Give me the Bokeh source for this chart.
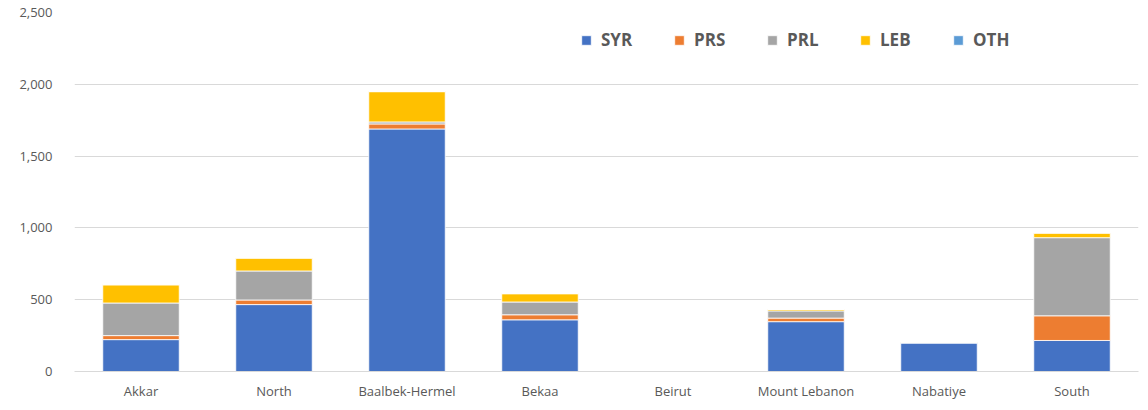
from bokeh.plotting import figure
from bokeh.models import Range1d, FactorRange, NumeralTickFormatter, FixedTicker, Legend, LegendItem, ColumnDataSource
from bokeh.embed import file_html
from bokeh.resources import INLINE

regions = ["Akkar", "North", "Baalbek-Hermel", "Bekaa", "Beirut", "Mount Lebanon", "Nabatiye", "South"]
SYR = [222, 466, 1689, 360, 0, 347, 200, 216]
PRS = [28, 32, 35, 35, 0, 25, 0, 172]
PRL = [227, 202, 14, 89, 0, 50, 0, 544]
LEB = [127, 90, 211, 58, 0, 10, 4, 32]
OTH = [0, 0, 0, 0, 0, 0, 0, 0]
series = ["SYR", "PRS", "PRL", "LEB", "OTH"]
colors = ["#4472C4", "#ED7D31", "#A5A5A5", "#FFC000", "#5B9BD5"]
y_ticks = [0, 500, 1000, 1500, 2000, 2500]

source = ColumnDataSource(dict(region=regions, SYR=SYR, PRS=PRS, PRL=PRL, LEB=LEB, OTH=OTH))

p = figure(width=1140, height=402, output_backend="svg", toolbar_location=None,
           x_range=FactorRange(*regions, range_padding=0), y_range=Range1d(0, 2500))
p.min_border_left = 74
p.min_border_right = 2
p.min_border_top = 12
p.min_border_bottom = 26
p.outline_line_color = None
p.background_fill_color = "white"
p.border_fill_color = "white"

renderers = p.vbar_stack(series, x="region", width=0.575, source=source, color=colors,
                         line_color="white", line_width=0.8)

p.xgrid.grid_line_color = None
p.ygrid.grid_line_color = "#D9D9D9"
p.ygrid.grid_line_width = 1
p.yaxis.ticker = FixedTicker(ticks=y_ticks)
p.yaxis.formatter = NumeralTickFormatter(format="0,0")
p.yaxis.axis_line_color = None
p.yaxis.major_tick_line_color = None
p.yaxis.minor_tick_line_color = None
p.yaxis.major_label_standoff = 16
p.xaxis.axis_line_color = "#D9D9D9"
p.xaxis.major_tick_line_color = None
p.xaxis.minor_tick_line_color = None
p.xaxis.major_label_standoff = 4
for ax in (p.xaxis, p.yaxis):
    ax.major_label_text_font = "Open Sans"
    ax.major_label_text_font_size = "13px"
    ax.major_label_text_color = "#595959"

legend = Legend(items=[LegendItem(label=s, renderers=[r]) for s, r in zip(series, renderers)],
                orientation="horizontal", location=(506, 320))
legend.glyph_width = 12
legend.glyph_height = 12
legend.label_standoff = 9
legend.label_width = 50
legend.spacing = 22
legend.padding = 5
legend.margin = 0
legend.border_line_color = None
legend.background_fill_alpha = 0
legend.label_text_font = "Open Sans"
legend.label_text_font_style = "bold"
legend.label_text_font_size = "17px"
legend.label_text_color = "#595959"
p.add_layout(legend)

open("out.html", "w").write(file_html(p, INLINE))
